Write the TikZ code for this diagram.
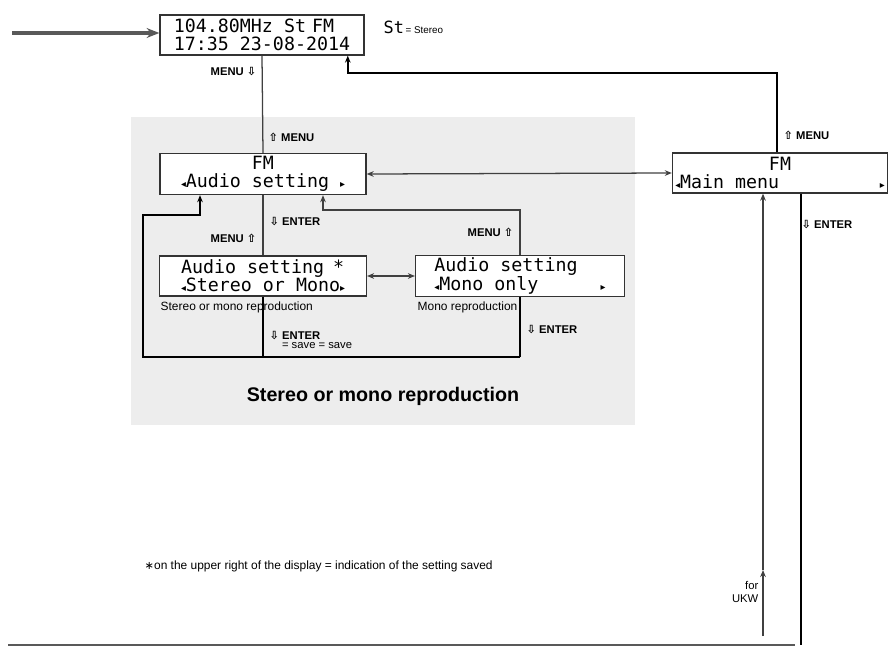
\documentclass[tikz,border=0pt]{standalone}
\usepackage{fontspec}
\setmainfont{Liberation Sans}
\newfontfamily\lcdfont{DejaVu Sans Mono}
\newfontfamily\symfont{DejaVu Sans}
\usetikzlibrary{arrows.meta,positioning}

\newcommand{\keyup}{{\symfont\char"21E7}}
\newcommand{\keydn}{{\symfont\char"21E9}}
\newcommand{\lt}{{\symfont\scriptsize\char"25C2}}
\newcommand{\rt}{{\symfont\scriptsize\char"25B8}}

\begin{document}
\begin{tikzpicture}[x=0.025cm, y=-0.025cm, >={Stealth[length=5pt,width=4pt]}]
    \tikzset{
        lcd/.style={rectangle, draw=black!80, line width=0.9pt, fill=white, inner sep=2pt,
            minimum height=1cm, align=left, font=\lcdfont\fontsize{13}{13}\selectfont},
        key/.style={font=\fontsize{8}{9}\selectfont\bfseries, inner sep=1pt},
        caption/.style={font=\fontsize{8.5}{10}\selectfont, inner sep=1pt},
        link/.style={draw=black!75, line width=0.9pt},
        loop/.style={draw=black, line width=1.4pt}
    }
    \useasboundingbox (0,0) rectangle (890,651);
    \fill[black!7] (131,117) rectangle (635,425);

    % Displays
    \node [lcd, minimum width=5.1cm] (home) at (262,35) {104.80MHz St\,\,FM\\17:35 23-08-2014};
    \node [lcd, minimum width=5.15cm, align=center] (audio) at (263,174) {FM\\\lt Audio setting \rt};
    \node [lcd, minimum width=5.25cm, align=center] (main) at (780,173) {FM\\\lt Main menu\hspace{5.5em}\rt};
    \node [lcd, minimum width=5.17cm] (stmo) at (263,276) {Audio setting\,\,\,*\\\lt Stereo or Mono\rt};
    \node [lcd, minimum width=5.22cm] (mono) at (520,276) {Audio setting\hspace{2.2em}\\\lt Mono only\hspace{3.4em}\rt};

    % Texts
    \node [caption, anchor=west, font=\fontsize{7}{8}\selectfont] (st) at (382,27) {{\lcdfont\fontsize{12}{12}\selectfont St}\,= Stereo};
    \node [caption, anchor=north west] (capst) at (159,300) {Stereo or mono reproduction};
    \node [caption, anchor=north west] (capmo) at (416,300) {Mono reproduction};
    \node [font=\fontsize{14}{16}\selectfont\bfseries] (title) at (383,396) {Stereo or mono reproduction};
    \node [caption, anchor=west] (note) at (143,566) {{\symfont\footnotesize\char"2217}on the upper right of the display = indication of the setting saved};
    \node [caption, anchor=east, align=right, font=\fontsize{8}{9}\selectfont] (ukw) at (760,592) {for\\UKW};

    % Coordinates
    \coordinate (in) at (12,33);
    \coordinate (ret) at (777,73);
    \coordinate (up1) at (323,210);
    \coordinate (up2) at (520,210);
    \coordinate (lp1) at (143,357);
    \coordinate (lp2) at (520,357);
    \coordinate (lp3) at (143,215);
    \coordinate (lp4) at (200,215);
    \coordinate (ukwa) at (763,636);
    \coordinate (ukwb) at (763,570);
    \coordinate (bot1) at (8,645);
    \coordinate (bot2) at (795,645);

    % Connectors
    \draw [draw=black!65, line width=2.2pt, -{Stealth[length=9pt,width=7pt]}] (in) -- (home.west |- in);
    \draw [link] (home.south) -- (audio.north);
    \draw [loop, ->] (main.north -| ret) -- (ret) -| ([xshift=61]home.south);
    \draw [link, <->] (audio.east) -- (main.west);
    \draw [link] (audio.south) -- (stmo.north);
    \draw [link, ->] (mono.north) -- (up2) -| (up1) -- (up1 |- audio.south);
    \draw [link, <->] (stmo.east) -- (mono.west);
    \draw [loop] (stmo.south) -- (stmo.south |- lp1);
    \draw [loop] (mono.south) -- (lp2);
    \draw [loop, ->] (lp2) -- (lp1) -- (lp3) -| (lp4 |- audio.south);
    \draw [loop] ([xshift=15]main.south) -- ([xshift=15]main.south |- bot2);
    \draw [draw=black!65, line width=1.8pt] (bot1) -- (bot2);
    \draw [link, ->] (ukwa) -- (ukwb);
    \draw [link, ->] (ukwb) -- (main.south -| ukwb);

    % Key labels
    \node [key, anchor=east] (k1) at (258,72) {MENU \keydn};
    \node [key, anchor=west] (k2) at (267,137) {\keyup\ MENU};
    \node [key, anchor=west] (k3) at (268,222) {\keydn\ ENTER};
    \node [key, anchor=east] (k4) at (258,238) {MENU \keyup};
    \node [key, anchor=east] (k5) at (515,232) {MENU \keyup};
    \node [key, anchor=west, align=left] (k6) at (268,340) {\keydn\ ENTER\\[-2pt]\hspace*{1.1em}\mdseries = save = save};
    \node [key, anchor=west] (k7) at (525,330) {\keydn\ ENTER};
    \node [key, anchor=west] (k8) at (782,135) {\keyup\ MENU};
    \node [key, anchor=west] (k9) at (800,225) {\keydn\ ENTER};
\end{tikzpicture}
\end{document}
